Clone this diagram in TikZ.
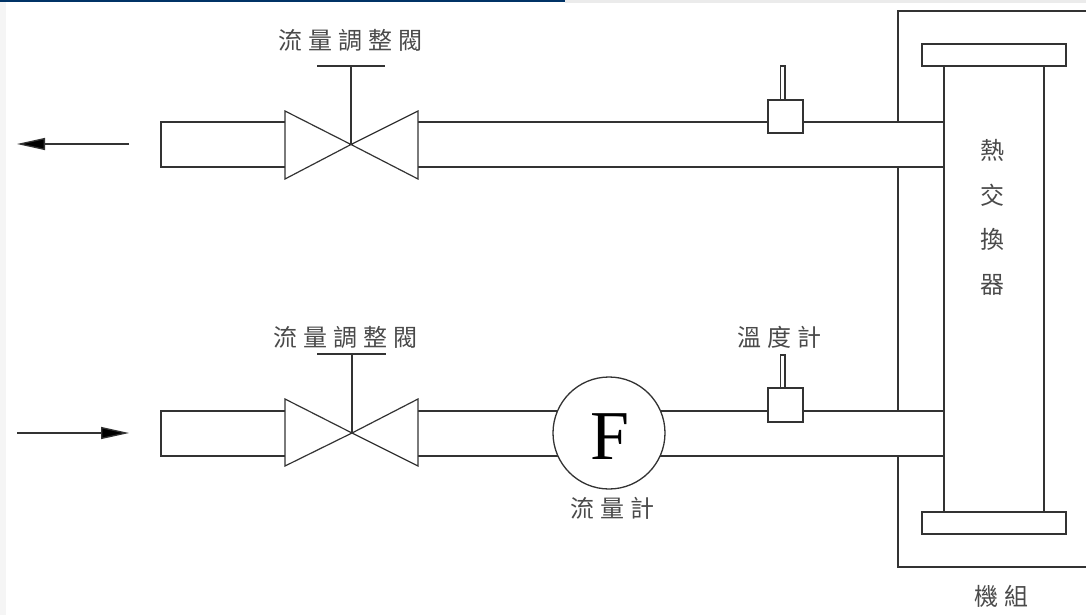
\documentclass[tikz,border=0pt]{standalone}
\usepackage{fontspec}
\usetikzlibrary{arrows.meta}
\setmainfont{Liberation Serif}
\newfontfamily\cjkplain{Noto Sans CJK TC}
\newfontfamily\cjkwide[LetterSpace=25]{Noto Sans CJK TC}
\definecolor{ink}{HTML}{333333}
\definecolor{txt}{HTML}{4A4A4A}
\definecolor{topblue}{HTML}{003366}
\tikzset{
  x=1pt,y=-1pt,
  pipe/.style={draw=ink,line width=1.3pt},
  partbox/.style={draw=ink,line width=1.3pt,fill=white},
  label/.style={text=txt,inner sep=0pt,font=\fontsize{24}{27}\selectfont\cjkplain},
  widelabel/.style={text=txt,inner sep=0pt,font=\fontsize{24}{27}\selectfont\cjkwide},
  flow/.style={draw=ink,line width=1.3pt,-{Triangle[length=28pt,width=12pt,fill=black]}},
}
\begin{document}
\begin{tikzpicture}
\useasboundingbox (0,0) rectangle (1086,615);
% page edge remnants
\fill[white] (0,0) rectangle (1086,615);
\fill[black!4] (0,0) rectangle (6,615);
\fill[black!8] (565,0) rectangle (1086,3);
\fill[topblue] (0,0) rectangle (565,2.5);

% unit housing, broken where the pipes enter
\coordinate (hTL) at (898,11);
\coordinate (hTR) at (1086,11);
\coordinate (hBL) at (898,567);
\coordinate (hBR) at (1086,567);
\draw[pipe] (hTR) -- (hTL) -- (898,122);
\draw[pipe] (898,167) -- (898,411);
\draw[pipe] (898,456) -- (hBL) -- (hBR);

% pipes, broken at the valves
\draw[pipe] (285,122) -- (161,122) -- (161,167) -- (285,167);
\draw[pipe] (418,122) -- (944,122);
\draw[pipe] (418,167) -- (944,167);
\draw[pipe] (285,411) -- (161,411) -- (161,456) -- (285,456);
\draw[pipe] (418,411) -- (944,411);
\draw[pipe] (418,456) -- (944,456);

% heat exchanger
\draw[partbox] (944,66) rectangle (1044,512);
\draw[partbox] (922,44) rectangle (1066,66);
\draw[partbox] (922,512) rectangle (1066,534);

% upper valve
\coordinate (vu) at (351,144.5);
\draw[partbox,line width=1.2pt] (vu) -- (285,111) -- (285,179) -- (vu) -- (418,111) -- (418,179) -- cycle;
\draw[pipe] (vu) -- (351,66);
\draw[pipe] (317,66) -- (385,66);

% lower valve
\coordinate (vl) at (352,433);
\draw[partbox,line width=1.2pt] (vl) -- (285,399) -- (285,466) -- (vl) -- (418,399) -- (418,466) -- cycle;
\draw[pipe] (vl) -- (352,354);
\draw[pipe] (317,354) -- (386,354);

% flow meter
\node[circle,draw=ink,line width=1.3pt,fill=white,minimum size=112pt,inner sep=0pt] (fm) at (609,433) {};
\node[inner sep=0pt,font=\fontsize{70}{70}\selectfont,text=black] (fmF) at (610,437) {F};

% thermometers
\draw[draw=ink,line width=1.1pt,fill=white] (780.5,66) rectangle (785,100);
\node[partbox,minimum width=35pt,minimum height=33pt,inner sep=0pt] (tu) at (785.5,116.5) {};
\draw[draw=ink,line width=1.1pt,fill=white] (780.5,355) rectangle (785,388);
\node[partbox,minimum width=35pt,minimum height=34pt,inner sep=0pt] (tl) at (785.5,405) {};

% flow arrows
\coordinate (a1s) at (129,144);
\coordinate (a1e) at (17,144);
\coordinate (a2s) at (17,433);
\coordinate (a2e) at (129,433);
\draw[flow] (a1s) -- (a1e);
\draw[flow] (a2s) -- (a2e);

% labels
\node[widelabel] (l1) at (350,40) {流量調整閥};
\node[widelabel] (l2) at (345,337) {流量調整閥};
\node[widelabel] (l3) at (612.5,508) {流量計};
\node[widelabel] (l4) at (779.5,337) {溫度計};
\node[widelabel] (l5) at (1001,596) {機組};
\node[label] (h1) at (992,150) {熱};
\node[label] (h2) at (992,195) {交};
\node[label] (h3) at (992,239) {換};
\node[label] (h4) at (992,285) {器};
\end{tikzpicture}
\end{document}
